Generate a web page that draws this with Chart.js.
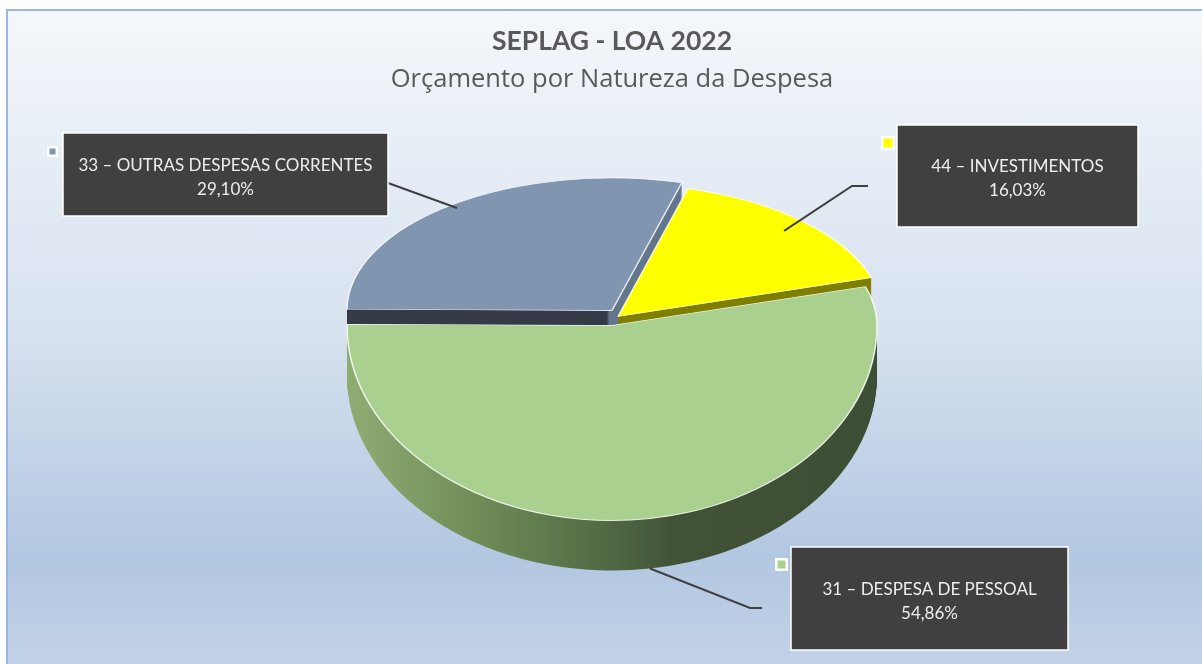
<!DOCTYPE html>
<html>
<head>
<meta charset="utf-8">
<script src="https://cdn.jsdelivr.net/npm/chart.js@4.4.0/dist/chart.umd.min.js"></script>
<style>
html, body { margin: 0; padding: 0; background: #fff; overflow: hidden; }
#frame {
  position: absolute; left: 6px; top: 9px; width: 1300px; height: 700px;
  border-left: 2px solid #9db5e0; border-top: 2px solid #9db5e0;
  background: linear-gradient(to bottom, #f4f7fb 0%, #d6e1ef 47%, #b2c7e1 78%, #c9d7ea 100%);
}
#wrap { position: absolute; left: 0; top: 0; width: 1202px; height: 664px; }
</style>
</head>
<body>
<div id="frame"></div>
<div id="wrap"><canvas id="pieChart" width="1202" height="664"></canvas></div>
<script>
// data
var labels = ['31 – DESPESA DE PESSOAL', '33 – OUTRAS DESPESAS CORRENTES', '44 – INVESTIMENTOS'];
var shares = [54.86, 29.10, 16.03];
var topColors = ['#a9d08e', '#8096b0', '#ffff00'];

// 3d look: back half flatter than front half (fake perspective), exploded slices lifted
var SBACK = 0.5, SFRONT = 0.736, DEPTH = 50;
var lift = [[0, 0], [0, -15], [6, -9]];
var drawOrder = [1, 2, 0];

function sideFill(ctx, i, cx, R) {
  var g;
  if (i === 0) {
    g = ctx.createLinearGradient(cx - R, 0, cx + R, 0);
    g.addColorStop(0, '#8fad73');
    g.addColorStop(0.25, '#6f8c57');
    g.addColorStop(0.5, '#4f6843');
    g.addColorStop(0.62, '#415237');
    g.addColorStop(1, '#3c4e33');
    return g;
  }
  if (i === 1) {
    g = ctx.createLinearGradient(cx - R, 0, cx + R, 0);
    g.addColorStop(0, '#343b46');
    g.addColorStop(0.49, '#343b46');
    g.addColorStop(0.495, '#64768c');
    g.addColorStop(1, '#64768c');
    return g;
  }
  return '#7f7f00';
}

// draw fn() twice: upper half with SBACK, lower half with SFRONT
function halves(ctx, cx, cy, dx, dy, fn) {
  var W = ctx.canvas.width, H = ctx.canvas.height;
  var split = Math.round(cy + dy);
  [[SBACK, -H, split], [SFRONT, split, 2 * H]].forEach(function (h) {
    ctx.save();
    ctx.beginPath();
    ctx.rect(-W, h[1], 3 * W, h[2] - h[1]);
    ctx.clip();
    ctx.translate(cx + dx, cy + dy);
    ctx.scale(1, h[0]);
    ctx.translate(-cx, -cy);
    fn();
    ctx.restore();
  });
}

var pie3d = {
  id: 'pie3d',
  beforeDatasetDraw: function (chart) {
    var ctx = chart.ctx;
    var arcs = chart.getDatasetMeta(0).data;
    var cx = arcs[0].x, cy = arcs[0].y, R = arcs[0].outerRadius;
    // sides, back slices first
    drawOrder.forEach(function (i) {
      var fake = Object.create(arcs[i]);
      fake.options = Object.assign({}, arcs[i].options, { backgroundColor: sideFill(ctx, i, cx, R), borderWidth: 0 });
      for (var k = DEPTH; k >= 1; k--) {
        halves(ctx, cx, cy, lift[i][0], lift[i][1] + k, function () { fake.draw(ctx); });
      }
    });
    // top faces
    drawOrder.forEach(function (i) {
      halves(ctx, cx, cy, lift[i][0], lift[i][1], function () { arcs[i].draw(ctx); });
    });
    return false;
  }
};

// label boxes (layout)
var boxes = [
  { x: 791, y: 547, w: 277, h: 103, key: [775, 558, 13], elbow: [[750, 608], [762, 608]], rad: 1.0, side: true },
  { x: 63, y: 133, w: 325, h: 83, key: [47, 146, 11], elbow: [[388, 183]], rad: 0.97, side: false },
  { x: 897, y: 125, w: 241, h: 102, key: [881, 136, 14], elbow: [[852, 186], [868, 186]], rad: 0.9, side: false }
];

var labelBoxes = {
  id: 'labelBoxes',
  afterDraw: function (chart) {
    var ctx = chart.ctx;
    var arcs = chart.getDatasetMeta(0).data;
    arcs.forEach(function (arc, i) {
      var b = boxes[i];
      var mid = (arc.startAngle + arc.endAngle) / 2;
      var r = arc.outerRadius * b.rad;
      var px = arc.x + Math.cos(mid) * r + lift[i][0];
      var dy = Math.sin(mid) * r;
      var py = arc.y + dy * (dy < 0 ? SBACK : SFRONT) + lift[i][1] + (b.side ? DEPTH : 0);

      ctx.save();
      ctx.strokeStyle = '#404040';
      ctx.lineWidth = 2;
      ctx.beginPath();
      ctx.moveTo(px, py);
      b.elbow.forEach(function (p) { ctx.lineTo(p[0], p[1]); });
      ctx.stroke();

      ctx.fillStyle = '#404040';
      ctx.fillRect(b.x, b.y, b.w, b.h);
      ctx.strokeStyle = '#ffffff';
      ctx.lineWidth = 1.5;
      ctx.strokeRect(b.x, b.y, b.w, b.h);

      var k = b.key;
      ctx.fillStyle = '#ffffff';
      ctx.fillRect(k[0], k[1], k[2], k[2]);
      ctx.fillStyle = topColors[i];
      ctx.fillRect(k[0] + 2.5, k[1] + 2.5, k[2] - 5, k[2] - 5);

      ctx.fillStyle = '#eeeeee';
      ctx.font = '17px Lato';
      ctx.textAlign = 'center';
      ctx.textBaseline = 'middle';
      var tx = b.x + b.w / 2, ty = b.y + b.h / 2;
      ctx.fillText(labels[i], tx, ty - 9);
      ctx.fillText(shares[i].toFixed(2).replace('.', ',') + '%', tx, ty + 15);
      ctx.restore();
    });
  }
};

var ctx = document.getElementById('pieChart').getContext('2d');

var myChart = new Chart(ctx, {
  type: 'pie',
  data: {
    labels: labels,
    datasets: [{
      data: shares,
      backgroundColor: topColors,
      borderColor: 'rgba(255,255,255,0.85)',
      borderWidth: 1.5,
      clip: false
    }]
  },
  options: {
    responsive: false,
    animation: false,
    events: [],
    rotation: 73,
    radius: 265,
    layout: { padding: { left: 22, right: 0, top: 0, bottom: 108 } },
    plugins: {
      legend: { display: false },
      tooltip: { enabled: false },
      title: {
        display: true,
        text: 'SEPLAG - LOA 2022',
        color: '#595959',
        font: { family: 'Lato', size: 26.5, weight: 'bold' },
        padding: { top: 26, bottom: 0 }
      },
      subtitle: {
        display: true,
        text: 'Orçamento por Natureza da Despesa',
        color: '#595959',
        font: { family: 'Open Sans', size: 25.5 },
        padding: { top: 6.5, bottom: 0 }
      }
    }
  },
  plugins: [pie3d, labelBoxes]
});
</script>
</body>
</html>
